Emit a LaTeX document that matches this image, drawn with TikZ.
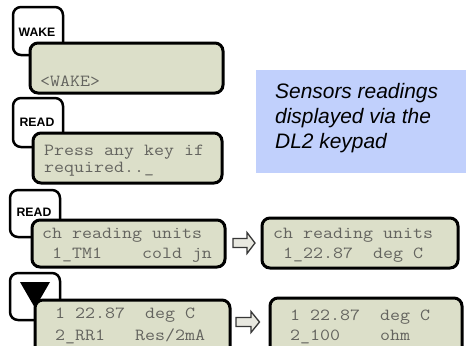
\documentclass[tikz,border=0pt]{standalone}
\usepackage{fontspec}
\usepackage{graphicx}
\setmainfont{Liberation Sans}
\newcommand\lcdline[1]{\scalebox{1.145}[1]{#1}}
\definecolor{lcdfill}{RGB}{220,223,201}
\definecolor{bluefill}{RGB}{193,208,252}
\definecolor{lcdtxt}{RGB}{100,100,95}
\definecolor{arrowfill}{RGB}{232,232,224}
\definecolor{arrowline}{RGB}{55,55,55}
\tikzset{
  keybox/.style={draw=black, line width=2.5bp, rounded corners=8bp, fill=white},
  lcdbox/.style={draw=black, line width=3bp, rounded corners=8bp, fill=lcdfill},
  keylabel/.style={font=\fontsize{12.3}{13}\selectfont\bfseries, inner sep=0pt},
  lcdtext/.style={font=\fontsize{17}{17}\selectfont\ttfamily, text=lcdtxt, anchor=base west, inner sep=0pt},
  notetext/.style={font=\fontsize{21}{25}\selectfont\itshape, anchor=base west, inner sep=0pt},
  blockarrow/.style={draw=arrowline, fill=arrowfill, line width=1.3bp, line join=miter},
}
\begin{document}
\begin{tikzpicture}[x=1bp, y=-1bp]
\useasboundingbox (0,0) rectangle (466,345);
\clip (0,0) rectangle (466,345);
% blue note
\path[fill=bluefill] (256,70) rectangle (466,173);
\node[notetext] (n1) at (275,98) {Sensors readings};
\node[notetext] (n2) at (275,123) {displayed via the};
\node[notetext] (n3) at (275,148) {DL2 keypad};
% keys
\path[keybox] (13,7) rectangle (63,55);
\node[keylabel] (kwake) at (37,32) {WAKE};
\path[keybox] (13,98) rectangle (63,147);
\node[keylabel] (kread1) at (37,122) {READ};
\path[keybox] (10,190) rectangle (60,237);
\node[keylabel] (kread2) at (34,212) {READ};
\path[keybox] (10,273) rectangle (60,320);
\fill[black] (20,282) -- (50,282) -- (35,308) -- cycle;
% LCDs
\path[lcdbox] (30,43) rectangle (223,93);
\node[lcdtext] (t1) at (40,86) {\lcdline{<WAKE>}};
\path[lcdbox] (33,133) rectangle (222,183);
\node[lcdtext] (t2a) at (44,155) {\lcdline{Press any key if}};
\node[lcdtext] (t2b) at (44,172) {\lcdline{required..\_}};
\path[lcdbox] (32,220) rectangle (225,267);
\node[lcdtext] (t3a) at (42,238) {\lcdline{ch reading units}};
\node[lcdtext] (t3b) at (42,258) {\lcdline{~1\_TM1~~~~cold jn}};
\path[lcdbox] (262,218) rectangle (458,268);
\node[lcdtext] (t5a) at (273,238) {\lcdline{ch reading units}};
\node[lcdtext] (t5b) at (273,258) {\lcdline{~1\_22.87~~deg C}};
\path[lcdbox] (35,300) rectangle (230,365);
\node[lcdtext] (t4a) at (45,318) {\lcdline{~1 22.87~~deg C}};
\node[lcdtext] (t4b) at (45,340) {\lcdline{~2\_RR1~~~Res/2mA}};
\path[lcdbox] (270,298) rectangle (462,365);
\node[lcdtext] (t6a) at (280,320) {\lcdline{~1 22.87~~deg C}};
\node[lcdtext] (t6b) at (280,340) {\lcdline{~2\_100~~~~ohm}};
% arrows
\coordinate (a1) at (233,243);
\draw[blockarrow] (a1) ++(0,-4.5) -- ++(14,0) -- ++(0,-6) -- ++(8,10.5) -- ++(-8,10.5) -- ++(0,-6) -- ++(-14,0) -- cycle;
\coordinate (a2) at (236,322);
\draw[blockarrow] (a2) ++(0,-4.5) -- ++(15,0) -- ++(0,-6) -- ++(8.5,10.5) -- ++(-8.5,10.5) -- ++(0,-6) -- ++(-15,0) -- cycle;
\end{tikzpicture}
\end{document}
